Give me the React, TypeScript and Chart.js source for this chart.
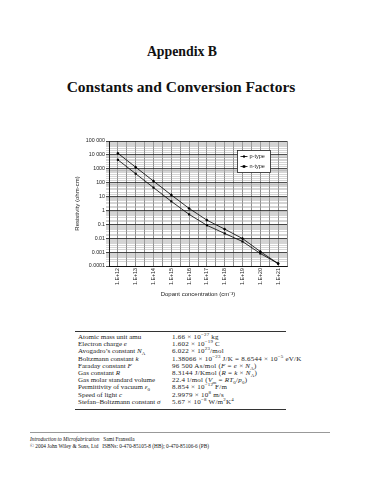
import React, { useEffect, useRef } from "react";
import { Chart, registerables } from "chart.js";

Chart.register(...registerables);

// ---- Data ----
const exponents = [12, 13, 14, 15, 16, 17, 18, 19, 20, 21];
const xTickLabels = ["1.E+12", "1.E+13", "1.E+14", "1.E+15", "1.E+16", "1.E+17", "1.E+18", "1.E+19", "1.E+20", "1.E+21"];
const yTickLabels = ["0.0001", "0.001", "0.01", "0.1", "1", "10", "100", "1000", "10 000", "100 000"];
const pType = [13000, 1300, 130, 13, 1.4, 0.2, 0.045, 0.0095, 0.0011, 0.00015];
const nType = [4400, 440, 44, 4.5, 0.52, 0.085, 0.022, 0.0058, 0.0008, 0.00015];
const seriesNames = ["p-type", "n-type"];

const tableLeft = [
  <>Atomic mass unit amu</>,
  <>Electron charge <i>e</i></>,
  <>Avogadro’s constant <i>N</i><sub>A</sub></>,
  <>Boltzmann constant <i>k</i></>,
  <>Faraday constant <i>F</i></>,
  <>Gas constant <i>R</i></>,
  <>Gas molar standard volume</>,
  <>Permittivity of vacuum <i>ε</i><sub>0</sub></>,
  <>Speed of light <i>c</i></>,
  <>Stefan–Boltzmann constant <i>σ</i></>,
];
const tableRight = [
  <>1.66 × 10<sup>−27</sup> kg</>,
  <>1.602 × 10<sup>−19</sup> C</>,
  <>6.022 × 10<sup>23</sup>/mol</>,
  <>1.38066 × 10<sup>−23</sup> J/K = 8.6544 × 10<sup>−5</sup> eV/K</>,
  <>96 500 As/mol (<i>F</i> = <i>e</i> × <i>N</i><sub>A</sub>)</>,
  <>8.3144 J/Kmol (<i>R</i> = <i>k</i> × <i>N</i><sub>A</sub>)</>,
  <>22.4 l/mol (<i>V</i><sub>m</sub> = <i>RT</i><sub>0</sub>/<i>p</i><sub>0</sub>)</>,
  <>8.854 × 10<sup>−12</sup> F/m</>,
  <>2.9979 × 10<sup>8</sup> m/s</>,
  <>5.67 × 10<sup>−8</sup> W/m<sup>2</sup>K<sup>4</sup></>,
];

const SANS = "'Liberation Sans', Arial, sans-serif";
const SERIF = "'Liberation Serif', 'Times New Roman', serif";

const legendPlugin = {
  id: "boxLegend",
  afterDraw(chart: any) {
    const { ctx, chartArea } = chart;
    const w = 33, h = 22;
    const x = Math.round(chartArea.right - 17 - w) + 0.5;
    const y = Math.round(chartArea.top + 9) + 0.5;
    ctx.save();
    ctx.fillStyle = "#fff";
    ctx.fillRect(x, y, w, h);
    ctx.strokeStyle = "#222";
    ctx.lineWidth = 0.8;
    ctx.strokeRect(x, y, w, h);
    ctx.font = `5.5px ${SANS}`;
    ctx.textBaseline = "middle";
    chart.data.datasets.forEach((ds: any, i: number) => {
      const cy = y + 6 + i * 10;
      ctx.strokeStyle = "#000";
      ctx.lineWidth = 0.8;
      ctx.beginPath();
      ctx.moveTo(x + 3, cy);
      ctx.lineTo(x + 10, cy);
      ctx.stroke();
      ctx.fillStyle = "#000";
      if (i === 0) {
        ctx.beginPath();
        ctx.moveTo(x + 6.5, cy - 1.6);
        ctx.lineTo(x + 8.1, cy);
        ctx.lineTo(x + 6.5, cy + 1.6);
        ctx.lineTo(x + 4.9, cy);
        ctx.closePath();
        ctx.fill();
      } else {
        ctx.fillRect(x + 5.2, cy - 1.3, 2.6, 2.6);
      }
      ctx.fillStyle = "#222";
      ctx.fillText(ds.label, x + 12, cy);
    });
    ctx.restore();
  },
};

function ResistivityChart() {
  const ref = useRef<HTMLCanvasElement>(null);
  useEffect(() => {
    const canvas = ref.current!;
    const chart = new Chart(canvas, {
      type: "line",
      data: {
        datasets: [
          {
            label: seriesNames[0],
            data: exponents.map((e, i) => ({ x: e, y: pType[i] })),
            borderColor: "#000",
            backgroundColor: "#000",
            borderWidth: 0.8,
            pointStyle: "rectRot",
            pointRadius: 1.6,
            pointBorderWidth: 0,
          },
          {
            label: seriesNames[1],
            data: exponents.map((e, i) => ({ x: e, y: nType[i] })),
            borderColor: "#000",
            backgroundColor: "#000",
            borderWidth: 0.8,
            pointStyle: "rect",
            pointRadius: 1.5,
            pointBorderWidth: 0,
          },
        ],
      },
      options: {
        responsive: false,
        animation: false,
        devicePixelRatio: 1,
        layout: { padding: { left: 0, right: 13, top: 11, bottom: 0 } },
        plugins: { legend: { display: false }, tooltip: { enabled: false } },
        scales: {
          x: {
            type: "linear",
            min: exponents[0] - 0.5,
            max: exponents[exponents.length - 1] + 0.5,
            afterFit: (s: any) => { s.height = 44; },
            ticks: {
              stepSize: 0.5,
              autoSkip: false,
              minRotation: 90,
              maxRotation: 90,
              padding: 2,
              color: "#222",
              font: { family: SANS, size: 5.3 },
              callback: (v: any) => {
                const idx = exponents.indexOf(Number(v));
                return idx >= 0 ? xTickLabels[idx] : "";
              },
            },
            grid: { color: "#444", lineWidth: 0.6, tickLength: 0 },
            border: { color: "#000", width: 0.8 },
            title: {
              display: true,
              text: "Dopant concentration (cm⁻³)",
              color: "#222",
              font: { family: SANS, size: 6 },
              padding: { top: 0, bottom: 12 },
            },
          },
          y: {
            type: "logarithmic",
            min: 1e-4,
            max: 1e5,
            afterFit: (s: any) => { s.width = 69; },
            ticks: {
              autoSkip: false,
              padding: 1,
              color: "#222",
              font: { family: SANS, size: 5.3 },
              callback: (v: any) => {
                const val = Number(v);
                const e = Math.round(Math.log10(val));
                if (Math.abs(val - Math.pow(10, e)) / val < 1e-6) return yTickLabels[e + 4];
                return "";
              },
            },
            grid: {
              lineWidth: (c: any) => {
                const val = c.tick ? c.tick.value : 1;
                const e = Math.round(Math.log10(val));
                return Math.abs(val - Math.pow(10, e)) / val < 1e-6 ? 0.8 : 0.5;
              },
              tickLength: 3,
              color: (c: any) => {
                const val = c.tick ? c.tick.value : 1;
                const e = Math.round(Math.log10(val));
                return Math.abs(val - Math.pow(10, e)) / val < 1e-6 ? "#222" : "#a8a8a8";
              },
            },
            border: { color: "#000", width: 0.8 },
            title: {
              display: true,
              text: "Resistivity (ohm-cm)",
              color: "#222",
              font: { family: SANS, size: 6 },
              padding: { top: 34, bottom: 0 },
            },
          },
        },
      },
      plugins: [legendPlugin],
    } as any);
    return () => chart.destroy();
  }, []);
  return (
    <canvas
      ref={ref}
      width={260}
      height={180}
      style={{ position: "absolute", left: 40, top: 130, width: 260, height: 180 }}
    />
  );
}

export default function App() {
  const rowTop = 337;
  const rowStep = 7.2;
  return (
    <div style={{ position: "absolute", left: 0, top: 0, width: 369, height: 480, background: "#fff", color: "#111", overflow: "hidden" }}>
      <div style={{ position: "absolute", left: 0, width: 364, top: 52 - 9, lineHeight: "18px", textAlign: "center", fontFamily: SERIF, fontWeight: "bold", fontSize: 13.8 }}>
        Appendix B
      </div>
      <div style={{ position: "absolute", left: 0, width: 362, top: 87 - 10, lineHeight: "20px", textAlign: "center", fontFamily: SERIF, fontWeight: "bold", fontSize: 15.5 }}>
        Constants and Conversion Factors
      </div>
      <ResistivityChart />
      <div style={{ position: "absolute", left: 75, top: 331, width: 211, height: 1, background: "#333" }} />
      {tableLeft.map((t, i) => (
        <div key={"l" + i} style={{ position: "absolute", left: 78, top: rowTop + i * rowStep - 4, lineHeight: "8px", fontFamily: SERIF, fontSize: 7.0, color: "#222", whiteSpace: "nowrap" }}>
          {t}
        </div>
      ))}
      {tableRight.map((t, i) => (
        <div key={"r" + i} style={{ position: "absolute", left: 172, top: rowTop + i * rowStep - 4, lineHeight: "8px", fontFamily: SERIF, fontSize: 7.0, letterSpacing: 0.25, color: "#222", whiteSpace: "nowrap" }}>
          {t}
        </div>
      ))}
      <div style={{ position: "absolute", left: 75, top: 409, width: 211, height: 1, background: "#333" }} />
      <div style={{ position: "absolute", left: 30, top: 432, width: 300, height: 1, background: "#999" }} />
      <div style={{ position: "absolute", left: 30, top: 436, lineHeight: "6px", fontFamily: SERIF, fontSize: 5.3, whiteSpace: "nowrap" }}>
        <i>Introduction to Microfabrication</i>&nbsp;&nbsp; Sami Franssila
      </div>
      <div style={{ position: "absolute", left: 30, top: 443, lineHeight: "6px", fontFamily: SERIF, fontSize: 5.3, whiteSpace: "nowrap" }}>
        © 2004 John Wiley &amp; Sons, Ltd&nbsp;&nbsp; ISBNs: 0-470-85105-8 (HB); 0-470-85106-6 (PB)
      </div>
      <style>{`sup{font-size:70%;line-height:0;vertical-align:super} sub{font-size:70%;line-height:0;vertical-align:sub}`}</style>
    </div>
  );
}
